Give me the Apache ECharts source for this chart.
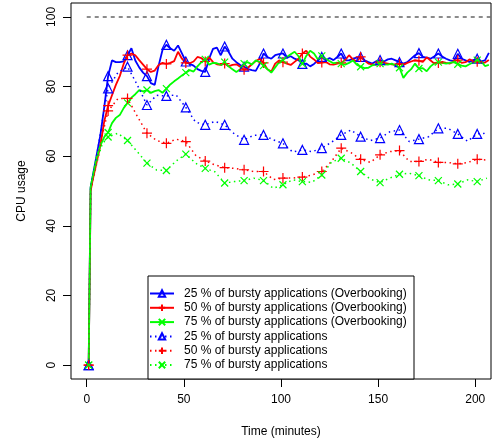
<!DOCTYPE html>
<html>
<head>
<meta charset="utf-8">
<script src="https://cdn.jsdelivr.net/npm/echarts@6/dist/echarts.min.js"></script>
<style>
html, body { margin: 0; padding: 0; background: #fff; }
#chart { width: 492px; height: 440px; }
</style>
</head>
<body>
<div id="chart"></div>
<script>
// sample times (minutes)
var solidTimes = [1, 2, 3, 5, 7, 9, 11, 13, 15, 17, 19, 21, 23, 25, 27, 29, 31, 33, 35, 37, 39, 41, 43, 45, 47, 49,
  51, 53, 55, 57, 59, 61, 63, 65, 67, 69, 71, 73, 75, 77, 79, 81, 83, 85, 87, 89, 91, 93, 95, 97, 99,
  101, 103, 105, 107, 109, 111, 113, 115, 117, 119, 121, 123, 125, 127, 129, 131, 133, 135, 137, 139, 141, 143, 145, 147, 149,
  151, 153, 155, 157, 159, 161, 163, 165, 167, 169, 171, 173, 175, 177, 179, 181, 183, 185, 187, 189, 191, 193, 195, 197, 199,
  201, 203, 205, 207];
var dottedTimes = [1, 2, 4, 6, 8, 11, 16, 21, 26, 31, 36, 41, 46, 51, 56, 61, 66, 71, 76, 81, 86, 91, 96, 101, 106,
  111, 116, 121, 126, 131, 136, 141, 146, 151, 156, 161, 166, 171, 176, 181, 186, 191, 196, 201, 206];

// CPU usage, with overbooking
var blueSolid = [0, 51, 54, 60, 66, 74, 83, 87.5, 87, 87, 87.2, 89, 91, 87.5, 85.5, 84, 83, 81, 80.5, 86,
  90.5, 92, 91, 90.3, 91.8, 89.5, 87.2, 86.5, 86, 85, 84.5, 84.2, 88, 90.8, 91.2, 89, 91.5, 90, 88, 87,
  86.2, 85.7, 85, 84.7, 84.5, 86.5, 89.5, 88.5, 88, 89, 89.3, 89.5, 88.3, 88.7, 88, 87.6, 86.5, 86.6, 85.8, 86.5,
  87.5, 88.5, 87.5, 88.2, 87.6, 88.5, 89.5, 87.5, 87.5, 88, 88.3, 88.5, 87.5, 87, 86.6, 87.3, 87.6, 87.2, 87.8, 88,
  87.5, 87, 86.6, 87, 88, 89, 89.6, 88.5, 88.3, 88, 88.7, 89.5, 88.6, 88, 87.5, 87.3, 89.4, 88, 87.5, 87.1,
  87.6, 88, 87.2, 87.5, 89.7];
var redSolid = [0, 50, 53, 58, 63, 70, 74.5, 77.5, 80.5, 83, 86.5, 89, 89.5, 89, 87.6, 86.3, 85, 84.2, 84.6, 86.2,
  86.8, 86.5, 86.8, 87.3, 90, 88, 86.8, 86.7, 87.2, 88.5, 88.2, 87.2, 88.4, 87, 86.4, 86.2, 86.6, 85.8, 86.2, 86.4,
  85.7, 84.8, 85.4, 86.4, 87.3, 88, 86.8, 85, 84.3, 86.6, 87.5, 87, 86.6, 86.2, 87.1, 88, 89.5, 90.3, 88.6, 87.8,
  86.7, 86.9, 87.1, 86.4, 86.3, 86.6, 86.8, 87.6, 89, 87.8, 87.2, 88.5, 87.5, 86.6, 86.4, 86.3, 87, 86.8, 86.6, 86.4,
  86.2, 86.5, 86.2, 86.8, 87.2, 87.6, 87.4, 87.1, 88.4, 87.5, 86.6, 86.8, 87.1, 86.8, 86.6, 87.2, 87.6, 86.8, 87, 87.8,
  87.4, 87.1, 86.8, 86.9, 87.6];
var greenSolid = [0, 51, 54, 59.5, 63, 65.5, 66.8, 69.5, 71, 71.8, 73.8, 75.3, 76.8, 77.8, 79, 78.6, 79, 78.2, 78.7, 79,
  78.2, 79.4, 80.6, 81.5, 82.3, 83.2, 84, 84.7, 84.3, 85.8, 87, 87.8, 86.3, 86.8, 86.7, 86.3, 87, 85.8, 85, 84.2,
  85, 86.6, 87, 86.3, 87.5, 87, 86, 85, 84, 85.5, 87, 87.6, 88.5, 89.3, 90, 88.7, 86.5, 88.8, 90.3, 89.5,
  87.8, 88.8, 88, 87.3, 86.7, 86.9, 86.6, 86.3, 86.8, 87.5, 86.3, 85.7, 85.3, 85.4, 86.1, 86.4, 86.6, 86.4, 86.3, 86.6,
  86, 85.4, 82.5, 84, 85, 86.6, 85.2, 85.3, 84.4, 85.8, 86.7, 87, 86.8, 86.6, 86.8, 87, 86.4, 86, 85.8, 86.4,
  87, 87.6, 87.3, 85.9, 86.2];

// CPU usage, without overbooking
var blueDotted = [0, 51, 57, 63, 70, 79.5, 84, 85.7, 80.5, 74.7, 77.5, 77.3, 77.6, 74, 69.8, 69, 70, 69, 66.4, 64.7,
  66, 66.1, 64.7, 63.7, 61.2, 61.8, 61.3, 62.3, 64, 66.1, 67.5, 65.6, 64.5, 65.2, 67, 67.5, 64.2, 64.9, 65.6, 68,
  68, 66.4, 64.3, 66.4, 66.6];
var redDotted = [0, 50, 55, 60, 66, 73, 76.5, 76.6, 71.5, 66.6, 64.5, 63.7, 64.9, 64.2, 60.3, 58.6, 57.5, 56.7, 56.5, 56.1,
  55.6, 55.6, 53.3, 53.7, 53.7, 54, 54.6, 55.6, 58.5, 62.3, 61, 59.1, 58.2, 60.4, 61.3, 61.6, 58.5, 58.5, 59.1, 58.2,
  58.2, 57.8, 58.2, 59.1, 58.9];
var greenDotted = [0, 51, 56, 60, 63.5, 65.5, 66.6, 64.5, 61.3, 58, 56, 55.9, 58.6, 60.6, 58, 56.5, 55.5, 52.3, 52.7, 53,
  53.7, 53, 50.8, 51.8, 53.2, 52.7, 52.5, 54.6, 58.3, 59.4, 58, 55.6, 53.4, 52.4, 53.7, 54.8, 55.1, 54.4, 53.2, 53,
  51.8, 52, 53.2, 52.7, 53.7];

var xTicks = [0, 50, 100, 150, 200];
var yTicks = [0, 20, 40, 60, 80, 100];
var refValue = 100;
var refStart = 0;

var names = [
  '25 % of bursty applications (Overbooking)',
  '50 % of bursty applications (Overbooking)',
  '75 % of bursty applications (Overbooking)',
  '25 % of bursty applications',
  '50 % of bursty applications',
  '75 % of bursty applications'
];

var FONT = '"Liberation Sans", Arial, sans-serif';
var TRI = 'triangle';
var PLUS = 'path://M5,0L5,10M0,5L10,5';
var CROSS = 'path://M0,0L10,10M0,10L10,0';

// markers only every 10 minutes
function toData(times, values) {
  return times.map(function (t, i) {
    var item = { value: [t, values[i]] };
    if ((t - 1) % 10 !== 0) item.symbol = 'none';
    return item;
  });
}

function makeSeries(name, times, values, color, symbol, size, dotted) {
  return {
    name: name,
    type: 'line',
    data: toData(times, values),
    symbol: symbol,
    symbolSize: size,
    showAllSymbol: true,
    clip: true,
    lineStyle: { color: color, width: dotted ? 1.5 : 1.8, type: dotted ? [1.5, 3.5] : 'solid' },
    itemStyle: { color: 'transparent', borderColor: color, borderWidth: 1.2 },
    emphasis: { disabled: true }
  };
}

var series = [
  makeSeries(names[0], solidTimes, blueSolid, '#0000ff', TRI, 9, false),
  makeSeries(names[1], solidTimes, redSolid, '#ff0000', PLUS, 10, false),
  makeSeries(names[2], solidTimes, greenSolid, '#00ff00', CROSS, 7, false),
  makeSeries(names[3], dottedTimes, blueDotted, '#0000ff', TRI, 9, true),
  makeSeries(names[4], dottedTimes, redDotted, '#ff0000', PLUS, 10, true),
  makeSeries(names[5], dottedTimes, greenDotted, '#00ff00', CROSS, 7, true)
];
series[0].markLine = {
  silent: true,
  symbol: 'none',
  label: { show: false },
  lineStyle: { color: '#666', type: [4, 4], width: 1.5 },
  data: [[{ coord: [refStart, refValue] }, { coord: [208.1, refValue] }]]
};

var myChart = echarts.init(document.getElementById('chart'));
var option = {
  animation: false,
  textStyle: { fontFamily: FONT },
  grid: { left: 71, right: 1, top: 3, bottom: 61, show: true, borderColor: '#000', borderWidth: 1, outerBoundsMode: 'none' },
  graphic: [{
    type: 'rect',
    z: 3,
    shape: { x: 148, y: 276, width: 266, height: 103 },
    style: { fill: '#fff', stroke: '#000', lineWidth: 1 }
  }],
  legend: {
    data: names,
    orient: 'vertical',
    left: 149,
    top: 287.5,
    padding: 0,
    itemWidth: 24,
    itemHeight: 8,
    itemGap: 2.3,
    selectedMode: false,
    z: 5,
    textStyle: { fontSize: 12, color: '#000', fontFamily: FONT, lineHeight: 12, padding: [0, 0, 0, 5] }
  },
  xAxis: {
    type: 'value',
    min: -8.1,
    max: 208.1,
    name: 'Time (minutes)',
    nameLocation: 'middle',
    nameGap: 47,
    nameTextStyle: { fontSize: 12, color: '#000', fontFamily: FONT },
    axisLine: { show: false, onZero: false },
    splitLine: { show: false },
    axisTick: { customValues: xTicks, length: 8, lineStyle: { color: '#000' } },
    axisLabel: { customValues: xTicks, margin: 15, fontSize: 12, color: '#000', fontFamily: FONT }
  },
  yAxis: {
    type: 'value',
    min: -4,
    max: 104,
    name: 'CPU usage',
    nameLocation: 'middle',
    nameRotate: 90,
    nameGap: 43,
    nameTextStyle: { fontSize: 12, color: '#000', fontFamily: FONT },
    axisLine: { show: false, onZero: false },
    splitLine: { show: false },
    axisTick: { customValues: yTicks, length: 8, lineStyle: { color: '#000' } },
    axisLabel: { customValues: yTicks, rotate: 90, margin: 13, fontSize: 12, color: '#000', fontFamily: FONT }
  },
  series: series
};
myChart.setOption(option);
</script>
</body>
</html>
